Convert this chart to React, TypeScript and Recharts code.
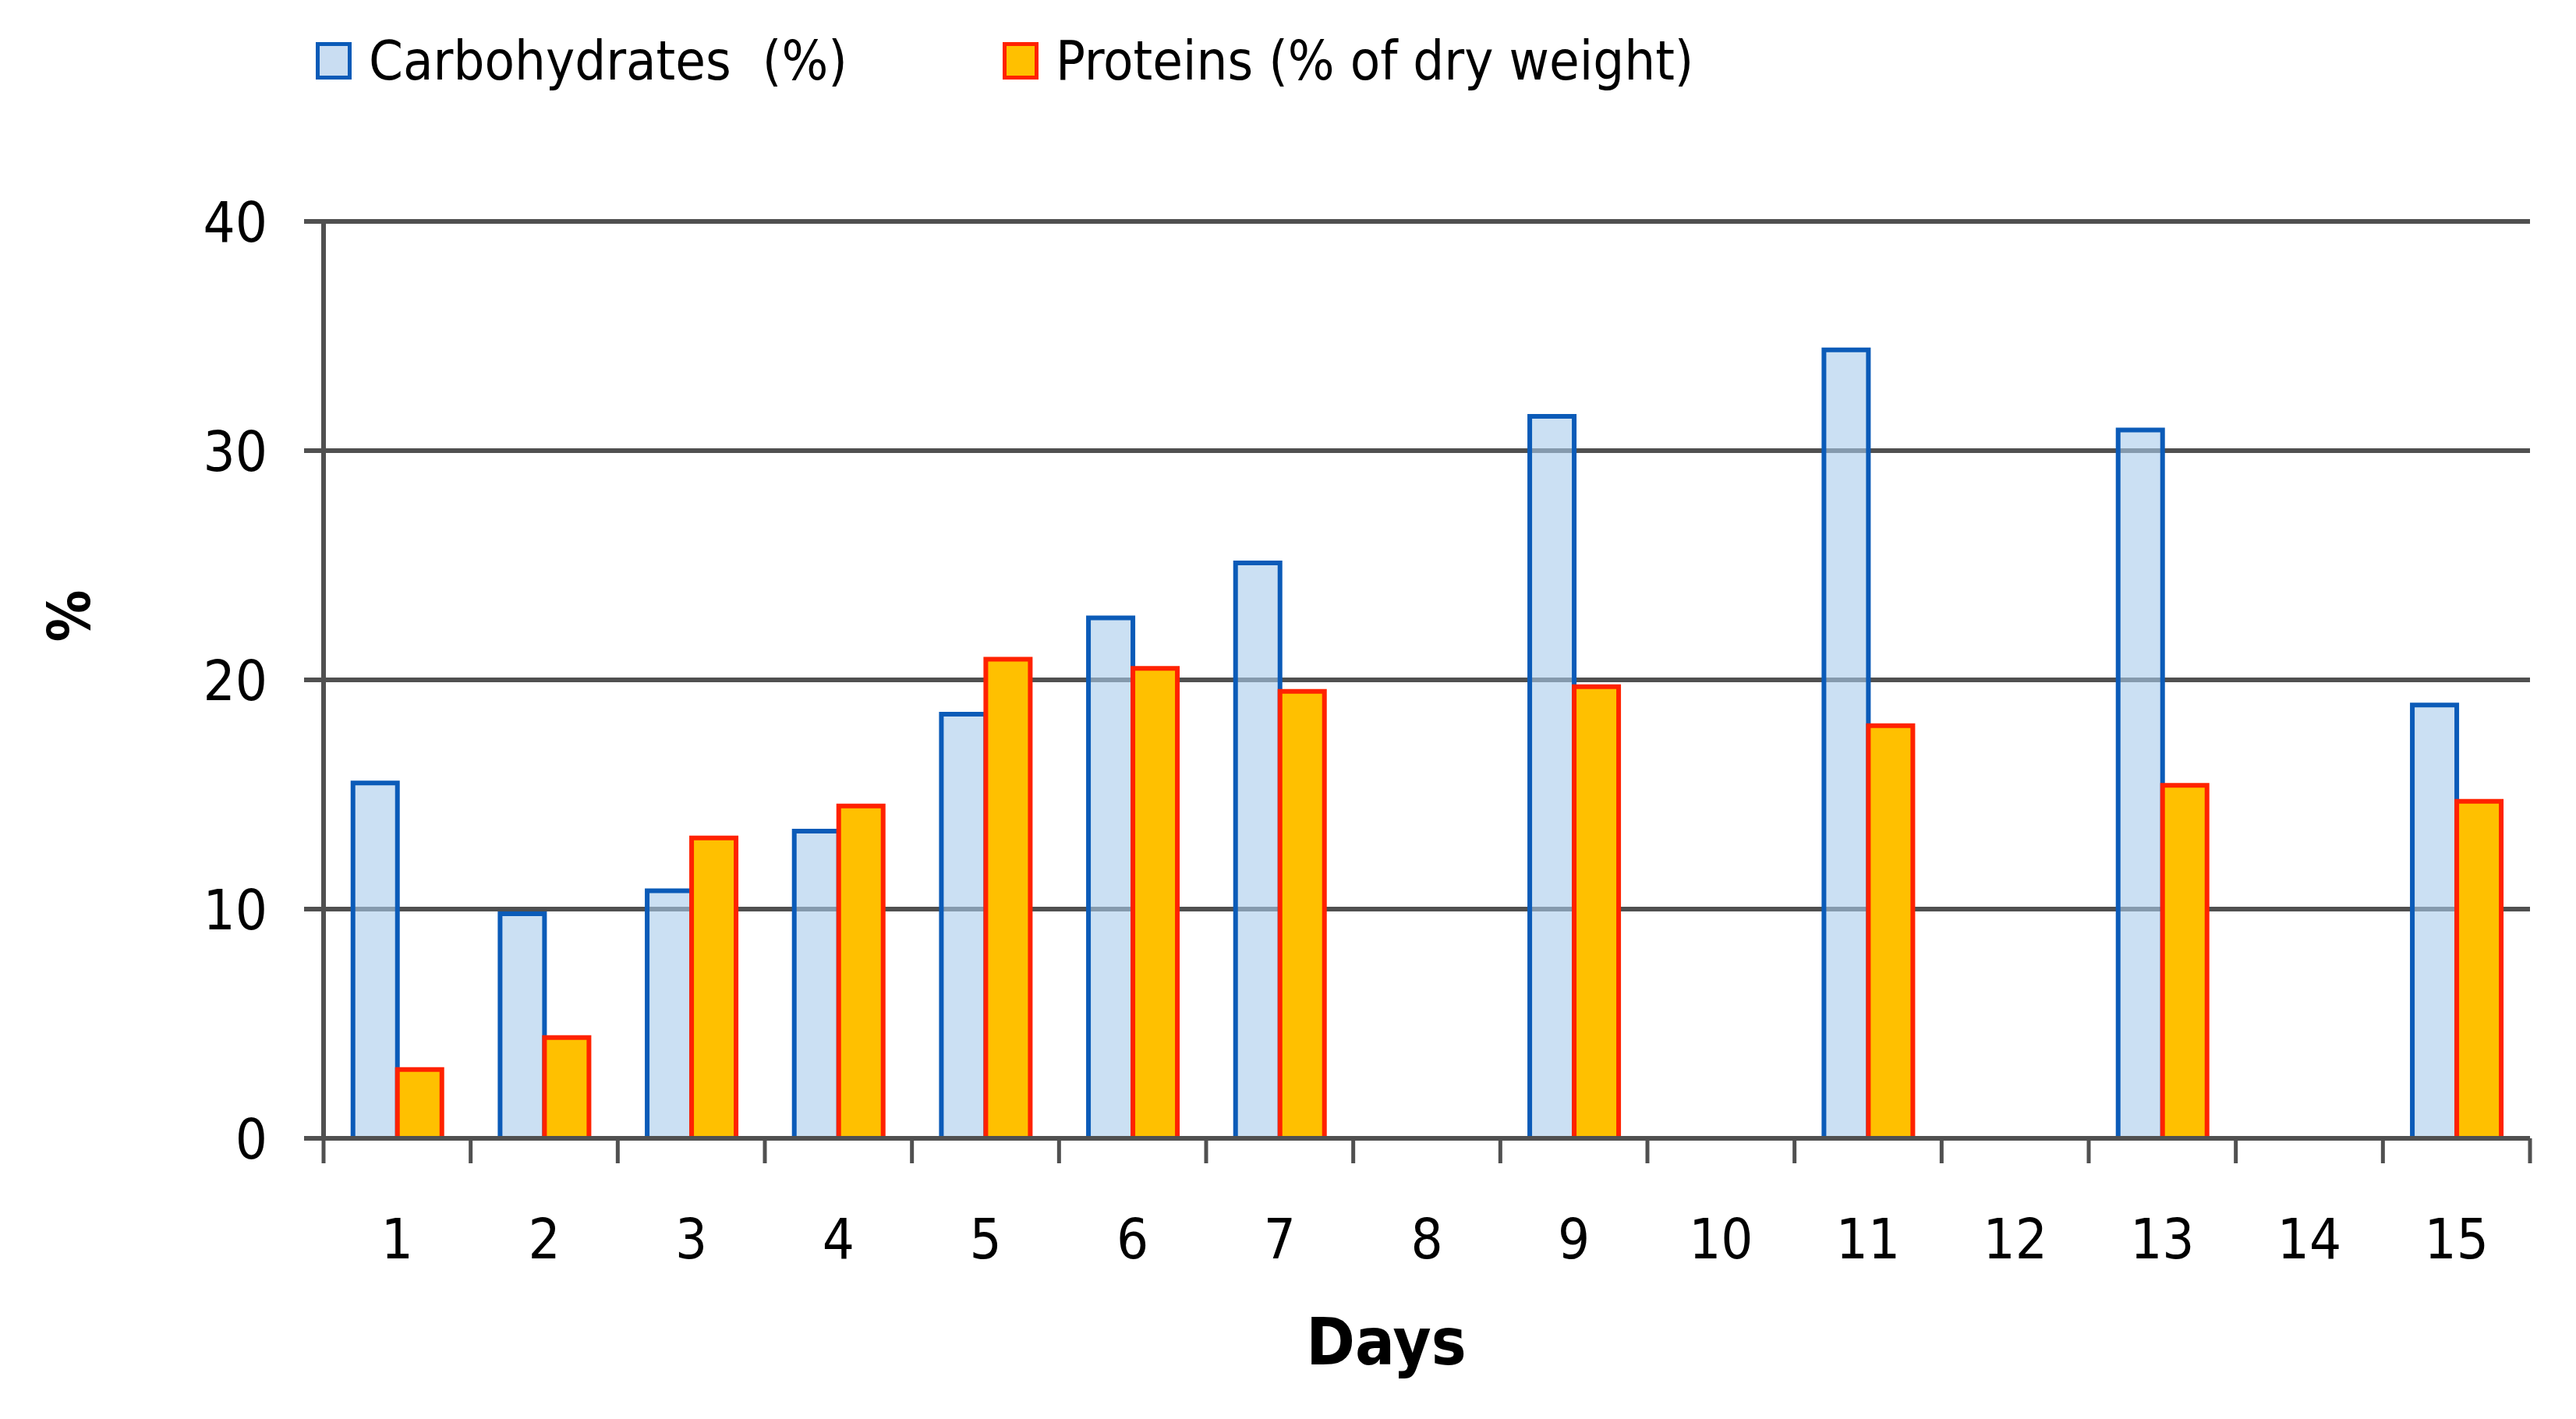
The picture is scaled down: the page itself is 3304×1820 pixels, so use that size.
import React from 'react';
import {
  BarChart,
  Bar,
  XAxis,
  YAxis,
  CartesianGrid,
  Legend,
} from 'recharts';

const days = ['1', '2', '3', '4', '5', '6', '7', '8', '9', '10', '11', '12', '13', '14', '15'];
const carbohydrates = [15.5, 9.8, 10.8, 13.4, 18.5, 22.7, 25.1, null, 31.5, null, 34.4, null, 30.9, null, 18.9];
const proteins = [3.0, 4.4, 13.1, 14.5, 20.9, 20.5, 19.5, null, 19.7, null, 18.0, null, 15.4, null, 14.7];
const yTicks = [0, 10, 20, 30, 40];

const data = days.map((day, i) => ({
  day,
  carbohydrates: carbohydrates[i],
  proteins: proteins[i],
}));

const W = 3304;
const H = 1820;
const PLOT_LEFT = 415;
const PLOT_RIGHT = 3245;
const PLOT_TOP = 284;
const PLOT_BOTTOM = 1460;
const STEP = (PLOT_RIGHT - PLOT_LEFT) / days.length;

const FONT = "'DejaVu Sans Condensed', 'Liberation Sans Narrow', sans-serif";
const AXIS = '#505050';

const XTick = ({ x, y, payload, index }: any) => {
  const half = STEP / 2;
  return (
    <g>
      <line x1={x - half} x2={x - half} y1={y} y2={y + 32} stroke={AXIS} strokeWidth={5} />
      {index === days.length - 1 && (
        <line x1={x + half} x2={x + half} y1={y} y2={y + 32} stroke={AXIS} strokeWidth={5} />
      )}
      <text x={x} y={y + 154} textAnchor="middle" fontFamily={FONT} fontSize={72} fill="#000">
        {payload.value}
      </text>
    </g>
  );
};

const renderLegend = () => {
  const items = [
    { label: 'Carbohydrates  (%)', fill: '#C9DDF2', stroke: '#0B5BB8', left: 405 },
    { label: 'Proteins (% of dry weight)', fill: '#FFC000', stroke: '#FF2200', left: 1286 },
  ];
  return (
    <div style={{ position: 'relative', height: 110 }}>
      {items.map((it) => (
        <div
          key={it.label}
          style={{
            position: 'absolute',
            left: it.left,
            top: 0,
            display: 'flex',
            alignItems: 'center',
            whiteSpace: 'pre',
            fontFamily: FONT,
            fontSize: 70,
            color: '#000',
          }}
        >
          <span
            style={{
              display: 'inline-block',
              width: 36,
              height: 38,
              background: it.fill,
              border: `5px solid ${it.stroke}`,
              marginRight: 22,
            }}
          />
          {it.label}
        </div>
      ))}
    </div>
  );
};

const YLabel = ({ viewBox }: any) => (
  <text
    x={viewBox.x + 89}
    y={790}
    transform={`rotate(-90, ${viewBox.x + 89}, 790)`}
    textAnchor="middle"
    dominantBaseline="central"
    fontFamily={FONT}
    fontSize={74}
    fontWeight="bold"
    fill="#000"
  >
    %
  </text>
);

const XLabel = () => (
  <text
    x={1778}
    y={1750}
    textAnchor="middle"
    fontFamily={FONT}
    fontSize={84}
    fontWeight="bold"
    fill="#000"
  >
    Days
  </text>
);

const App = () => {
  return (
    <div style={{ position: 'absolute', left: 0, top: 0, width: W, height: H, background: '#fff' }}>
      <BarChart
        width={W}
        height={H}
        data={data}
        margin={{ top: PLOT_TOP, right: W - PLOT_RIGHT, bottom: 0, left: 0 }}
        barCategoryGap="20%"
        barGap={0}
      >
        <CartesianGrid vertical={false} stroke={AXIS} strokeWidth={6} />
        <XAxis
          dataKey="day"
          interval={0}
          tickSize={0}
          tickMargin={0}
          tickLine={false}
          axisLine={{ stroke: AXIS, strokeWidth: 6 }}
          tick={<XTick />}
          height={H - PLOT_BOTTOM}
          label={<XLabel />}
        />
        <YAxis
          width={PLOT_LEFT}
          domain={[0, 40]}
          ticks={yTicks}
          interval={0}
          tickSize={25}
          tickMargin={47}
          tickLine={{ stroke: AXIS, strokeWidth: 6 }}
          axisLine={{ stroke: AXIS, strokeWidth: 6 }}
          tick={{ fontFamily: FONT, fontSize: 72, fill: '#000' }}
          label={<YLabel />}
        />
        <Legend
          verticalAlign="middle"
          align="center"
          content={renderLegend}
          wrapperStyle={{ top: 37, left: 0, width: W }}
        />
        <Bar
          dataKey="carbohydrates"
          name="Carbohydrates  (%)"
          fill="#A9CBEB"
          fillOpacity={0.6}
          stroke="#0B5BB8"
          strokeWidth={6}
          isAnimationActive={false}
        />
        <Bar
          dataKey="proteins"
          name="Proteins (% of dry weight)"
          fill="#FFC000"
          stroke="#FF2200"
          strokeWidth={6}
          isAnimationActive={false}
        />
      </BarChart>
    </div>
  );
};

export default App;
